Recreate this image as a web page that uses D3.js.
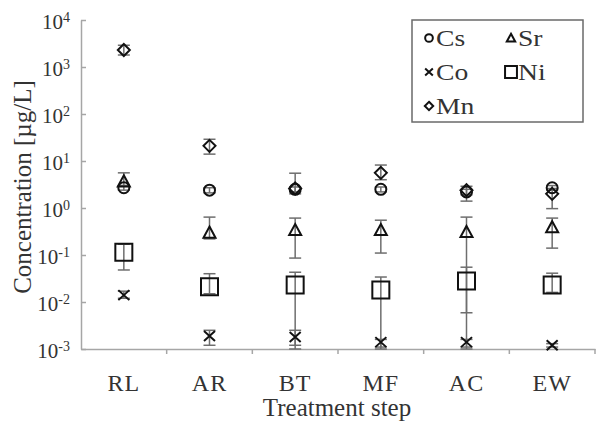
<!DOCTYPE html>
<html>
<head>
<meta charset="utf-8">
<script src="https://cdn.jsdelivr.net/npm/d3@7"></script>
<style>
  body { margin: 0; background: #fff; }
</style>
</head>
<body>
<div id="chart"></div>
<script>
const categories = ["RL", "AR", "BT", "MF", "AC", "EW"]
const yTickExp = [-3, -2, -1, 0, 1, 2, 3, 4]

// mean, lower and upper end of the error bar per treatment step
const csMean = [2.7, 2.4, 2.5, 2.5, 2.2, 2.7]
const csLow  = [2.4, 2.1, 2.2, 2.2, 1.4, 2.4]
const csHigh = [3.0, 2.7, 2.8, 2.8, 2.5, 3.0]

const srMean = [3.7, 0.30, 0.34, 0.34, 0.31, 0.39]
const srLow  = [3.0, 0.22, 0.086, 0.11, 0.001, 0.14]
const srHigh = [5.6, 0.64, 0.61, 0.55, 0.64, 0.61]

const coMean = [0.014, 0.0019, 0.0018, 0.0014, 0.0014, 0.0012]
const coLow  = [0.012, 0.0012, 0.0012, 0.0011, 0.0011, 0.0011]
const coHigh = [0.017, 0.0025, 0.0025, 0.0016, 0.0016, 0.0013]

const niMean = [0.115, 0.021, 0.023, 0.018, 0.028, 0.023]
const niLow  = [0.048, 0.015, 0.001, 0.001, 0.0059, 0.016]
const niHigh = [0.17, 0.04, 0.043, 0.034, 0.055, 0.041]

const mnMean = [2300, 21, 2.6, 5.6, 2.4, 2.0]
const mnLow  = [1800, 14, 2.0, 4.0, 1.9, 0.97]
const mnHigh = [2900, 29, 5.5, 8.2, 2.9, 2.6]

const series = [
  { name: "Ni", shape: "square", mean: niMean, low: niLow, high: niHigh },
  { name: "Sr", shape: "triangle", mean: srMean, low: srLow, high: srHigh },
  { name: "Cs", shape: "circle", mean: csMean, low: csLow, high: csHigh },
  { name: "Co", shape: "cross", mean: coMean, low: coLow, high: coHigh },
  { name: "Mn", shape: "diamond", mean: mnMean, low: mnLow, high: mnHigh }
]

const legendItems = [
  { name: "Cs", shape: "circle", col: 0, row: 0 },
  { name: "Sr", shape: "triangle", col: 1, row: 0 },
  { name: "Co", shape: "cross", col: 0, row: 1 },
  { name: "Ni", shape: "square", col: 1, row: 1 },
  { name: "Mn", shape: "diamond", col: 0, row: 2 }
]

const FONT = "Liberation Serif"
const width = 596, height = 424
const margin = { top: 20, right: 1, bottom: 75, left: 81 }

const svg = d3.select("#chart").append("svg")
  .attr("width", width)
  .attr("height", height)

const x = d3.scaleBand()
  .domain(categories)
  .range([margin.left, width - margin.right])

const y = d3.scaleLog()
  .domain([1e-3, 1e4])
  .range([height - margin.bottom, margin.top])

// marker path, centred on 0,0
function shapePath(shape, s) {
  const p = d3.path()
  if (shape === "circle") {
    p.arc(0, 0, 5.5 * s, 0, 2 * Math.PI)
  } else if (shape === "square") {
    const h = 8.5 * s
    p.rect(-h, -h, 2 * h, 2 * h)
  } else if (shape === "triangle") {
    const h = 6 * s
    p.moveTo(0, -h); p.lineTo(h, h * 0.85); p.lineTo(-h, h * 0.85); p.closePath()
  } else if (shape === "diamond") {
    const h = 6 * s
    p.moveTo(0, -h); p.lineTo(h, 0); p.lineTo(0, h); p.lineTo(-h, 0); p.closePath()
  } else if (shape === "cross") {
    const w = 5.5 * s, hh = 5 * s
    p.moveTo(-w, -hh); p.lineTo(w, hh); p.moveTo(w, -hh); p.lineTo(-w, hh)
  }
  return p.toString()
}

function styleText(sel, size) {
  sel.style("font-family", FONT).style("font-size", size + "px").attr("fill", "#333")
}

// axes
const yAxis = svg.append("g")
  .attr("transform", `translate(${margin.left},0)`)
  .call(d3.axisLeft(y).tickValues(yTickExp.map(e => Math.pow(10, e)))
    .tickSizeInner(-5).tickSizeOuter(0).tickFormat(""))
yAxis.select(".domain").attr("stroke", "#a6a6a6").attr("stroke-width", 1.5)
yAxis.selectAll(".tick line").attr("stroke", "#a6a6a6").attr("stroke-width", 1.5)
yAxis.selectAll(".tick text").remove()
yAxis.selectAll(".tick").append("text")
  .attr("x", -11)
  .attr("dy", "0.42em")
  .attr("text-anchor", "end")
  .call(styleText, 21)
  .each(function(d) {
    const t = d3.select(this)
    t.append("tspan").text("10")
    t.append("tspan").attr("dy", "-0.5em").style("font-size", "14px").text(Math.round(Math.log10(d)))
  })

const xAxis = svg.append("g")
  .attr("transform", `translate(0,${height - margin.bottom})`)
  .call(d3.axisBottom(x).tickSize(0).tickPadding(25))
xAxis.select(".domain").attr("stroke", "#a6a6a6").attr("stroke-width", 1.5)
xAxis.selectAll(".tick text").call(styleText, 24).attr("dy", "0.71em").style("letter-spacing", "1px")
xAxis.selectAll(".boundary")
  .data(categories.map(c => x(c) + x.bandwidth()))
  .enter().append("line")
  .attr("class", "boundary")
  .attr("x1", d => d).attr("x2", d => d)
  .attr("y1", 0).attr("y2", 5)
  .attr("stroke", "#a6a6a6").attr("stroke-width", 1.5)

svg.append("text")
  .attr("x", 337)
  .attr("y", 416)
  .attr("text-anchor", "middle")
  .call(styleText, 25)
  .text("Treatment step")

svg.append("text")
  .attr("transform", `translate(31,187) rotate(-90)`)
  .attr("text-anchor", "middle")
  .call(styleText, 25)
  .text("Concentration [µg/L]")

// error bars
const cap = 6
const bars = svg.append("g").attr("stroke", "#6e6e6e").attr("stroke-width", 1.5)
series.forEach(s => {
  categories.forEach((c, i) => {
    if (s.low[i] === s.high[i]) return
    const cx = x(c) + x.bandwidth() / 2
    bars.append("line")
      .attr("x1", cx).attr("x2", cx)
      .attr("y1", y(s.low[i])).attr("y2", y(s.high[i]))
    ;[s.low[i], s.high[i]].forEach(v => {
      bars.append("line")
        .attr("x1", cx - cap).attr("x2", cx + cap)
        .attr("y1", y(v)).attr("y2", y(v))
    })
  })
})

// markers
series.forEach(s => {
  svg.append("g").selectAll("path")
    .data(s.mean)
    .enter().append("path")
    .attr("transform", (d, i) => `translate(${x(categories[i]) + x.bandwidth() / 2},${y(d)})`)
    .attr("d", shapePath(s.shape, 1))
    .attr("fill", "none")
    .attr("stroke", "#111")
    .attr("stroke-width", 2)
})

// legend
const legend = svg.append("g").attr("transform", "translate(412,20)")
legend.append("rect")
  .attr("width", 171).attr("height", 102)
  .attr("fill", "#fff").attr("stroke", "#6a6a6a").attr("stroke-width", 1.5)
const item = legend.selectAll(".item")
  .data(legendItems)
  .enter().append("g")
  .attr("class", "item")
  .attr("transform", d => `translate(${17 + d.col * 82},${18 + d.row * 34})`)
item.append("path")
  .attr("d", d => shapePath(d.shape, 0.7))
  .attr("fill", "none").attr("stroke", "#111").attr("stroke-width", 2)
item.append("text")
  .attr("transform", "translate(7,0) scale(1.2,1)")
  .attr("dy", "0.35em")
  .call(styleText, 23)
  .text(d => d.name)
</script>
</body>
</html>
